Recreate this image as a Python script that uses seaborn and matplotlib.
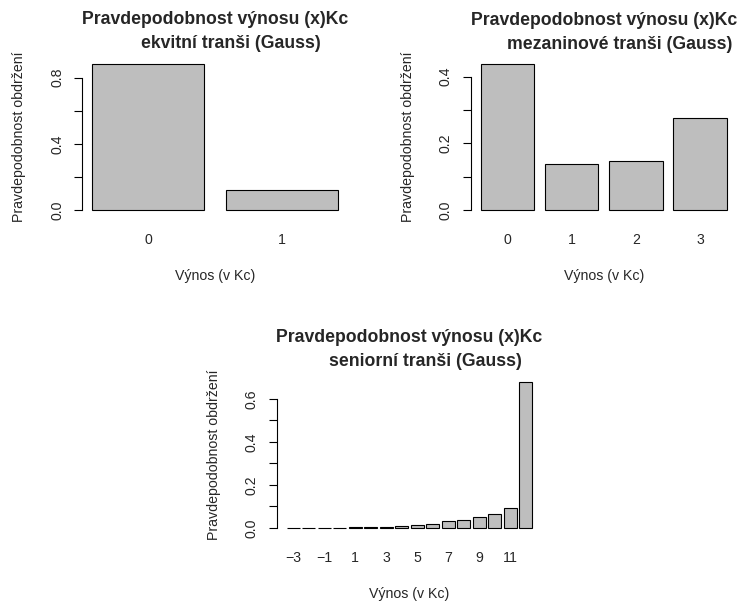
import matplotlib
matplotlib.use("Agg")
import matplotlib.pyplot as plt
import seaborn as sns
import pandas as pd

# Equity tranche: payoff (Kc) and probability
equity_payoff = ["0", "1"]
equity_prob = [0.882, 0.118]

# Mezzanine tranche
mezz_payoff = ["0", "1", "2", "3"]
mezz_prob = [0.437, 0.139, 0.146, 0.276]

# Senior tranche
senior_payoff = [str(v) for v in range(-3, 13)]
senior_prob = [0.001, 0.001, 0.001, 0.002, 0.003, 0.005, 0.006, 0.011,
               0.014, 0.020, 0.031, 0.039, 0.050, 0.065, 0.092, 0.678]
senior_ticklabels = ["\u22123", "\u22121", "1", "3", "5", "7", "9", "11"]

title_top = "Pravdepodobnost výnosu (x)Kc"
titles_bottom = ["ekvitní tranši (Gauss)", "mezaninové tranši (Gauss)",
                 "seniorní tranši (Gauss)"]
xlabel = "Výnos (v Kc)"
ylabel = "Pravdepodobnost obdržení"

sns.set_style("white")
plt.rcParams["font.family"] = ["Liberation Sans", "DejaVu Sans"]

W, H = 738, 604
fig = plt.figure(figsize=(W / 100, H / 100), dpi=100)

def px_axes(left, top, right, bottom):
    return fig.add_axes([left / W, 1 - bottom / H, (right - left) / W, (bottom - top) / H])

BAR_W = 1 / 1.2
LABEL_PT = 10.2
TITLE_PT = 12.7


def panel(ax, cats, probs, yticks, ylabels_shown, title2, xtick_pos=None, xtick_labels=None):
    df = pd.DataFrame({"payoff": cats, "prob": probs})
    sns.barplot(data=df, x="payoff", y="prob", order=cats, color="#BEBEBE",
                saturation=1, width=BAR_W, edgecolor="black", linewidth=0.8, ax=ax)
    n = len(cats)
    span = n - 1 + BAR_W
    ax.set_xlim(-BAR_W / 2 - 0.04 * span, n - 1 + BAR_W / 2 + 0.04 * span)
    top = max(probs)
    ax.set_ylim(-0.04 * top, 1.04 * top)

    for s in ["top", "right", "bottom"]:
        ax.spines[s].set_visible(False)
    ax.spines["left"].set_bounds(yticks[0], yticks[-1])
    ax.spines["left"].set_linewidth(0.8)
    ax.spines["left"].set_color("black")

    ax.set_yticks(yticks)
    ax.set_yticklabels([f"{t:.1f}" if show else "" for t, show in zip(yticks, ylabels_shown)],
                       rotation=90, va="center")
    ax.tick_params(axis="y", length=6, width=0.8, color="black", pad=7,
                   labelsize=LABEL_PT, left=True)

    if xtick_pos is None:
        xtick_pos = list(range(n))
        xtick_labels = cats
    ax.set_xticks(xtick_pos)
    ax.set_xticklabels(xtick_labels)
    ax.tick_params(axis="x", length=0, pad=12.5, labelsize=LABEL_PT)

    ax.set_xlabel(xlabel, fontsize=LABEL_PT)
    ax.set_ylabel(ylabel, fontsize=LABEL_PT)
    h = ax.get_position().height * H
    w = ax.get_position().width * W
    ax.xaxis.set_label_coords(0.5, -53 / h)
    ax.yaxis.set_label_coords(-56 / w, 0.5)

    ax.annotate(title_top, xy=(0.5, 1), xycoords="axes fraction", xytext=(0, 24.5),
                textcoords="offset points", ha="center", va="baseline",
                fontsize=TITLE_PT, fontweight="bold")
    ax.annotate(title2, xy=(0.5, 1), xycoords="axes fraction", xytext=(11.5, 7.2),
                textcoords="offset points", ha="center", va="baseline",
                fontsize=TITLE_PT, fontweight="bold")


ax1 = px_axes(82.2, 58.3, 347.8, 215.8)
panel(ax1, equity_payoff, equity_prob, [0, 0.2, 0.4, 0.6, 0.8],
      [True, False, True, False, True], titles_bottom[0])

ax2 = px_axes(470.9, 58.6, 736.5, 215.8)
panel(ax2, mezz_payoff, mezz_prob, [0, 0.1, 0.2, 0.3, 0.4],
      [True, False, True, False, True], titles_bottom[1])

ax3 = px_axes(276.9, 376.4, 542.0, 533.8)
panel(ax3, senior_payoff, senior_prob, [0, 0.1, 0.2, 0.3, 0.4, 0.5, 0.6],
      [True, False, True, False, True, False, True], titles_bottom[2],
      xtick_pos=list(range(0, 15, 2)), xtick_labels=senior_ticklabels)

fig.savefig("out.png", dpi=100, facecolor="white")
